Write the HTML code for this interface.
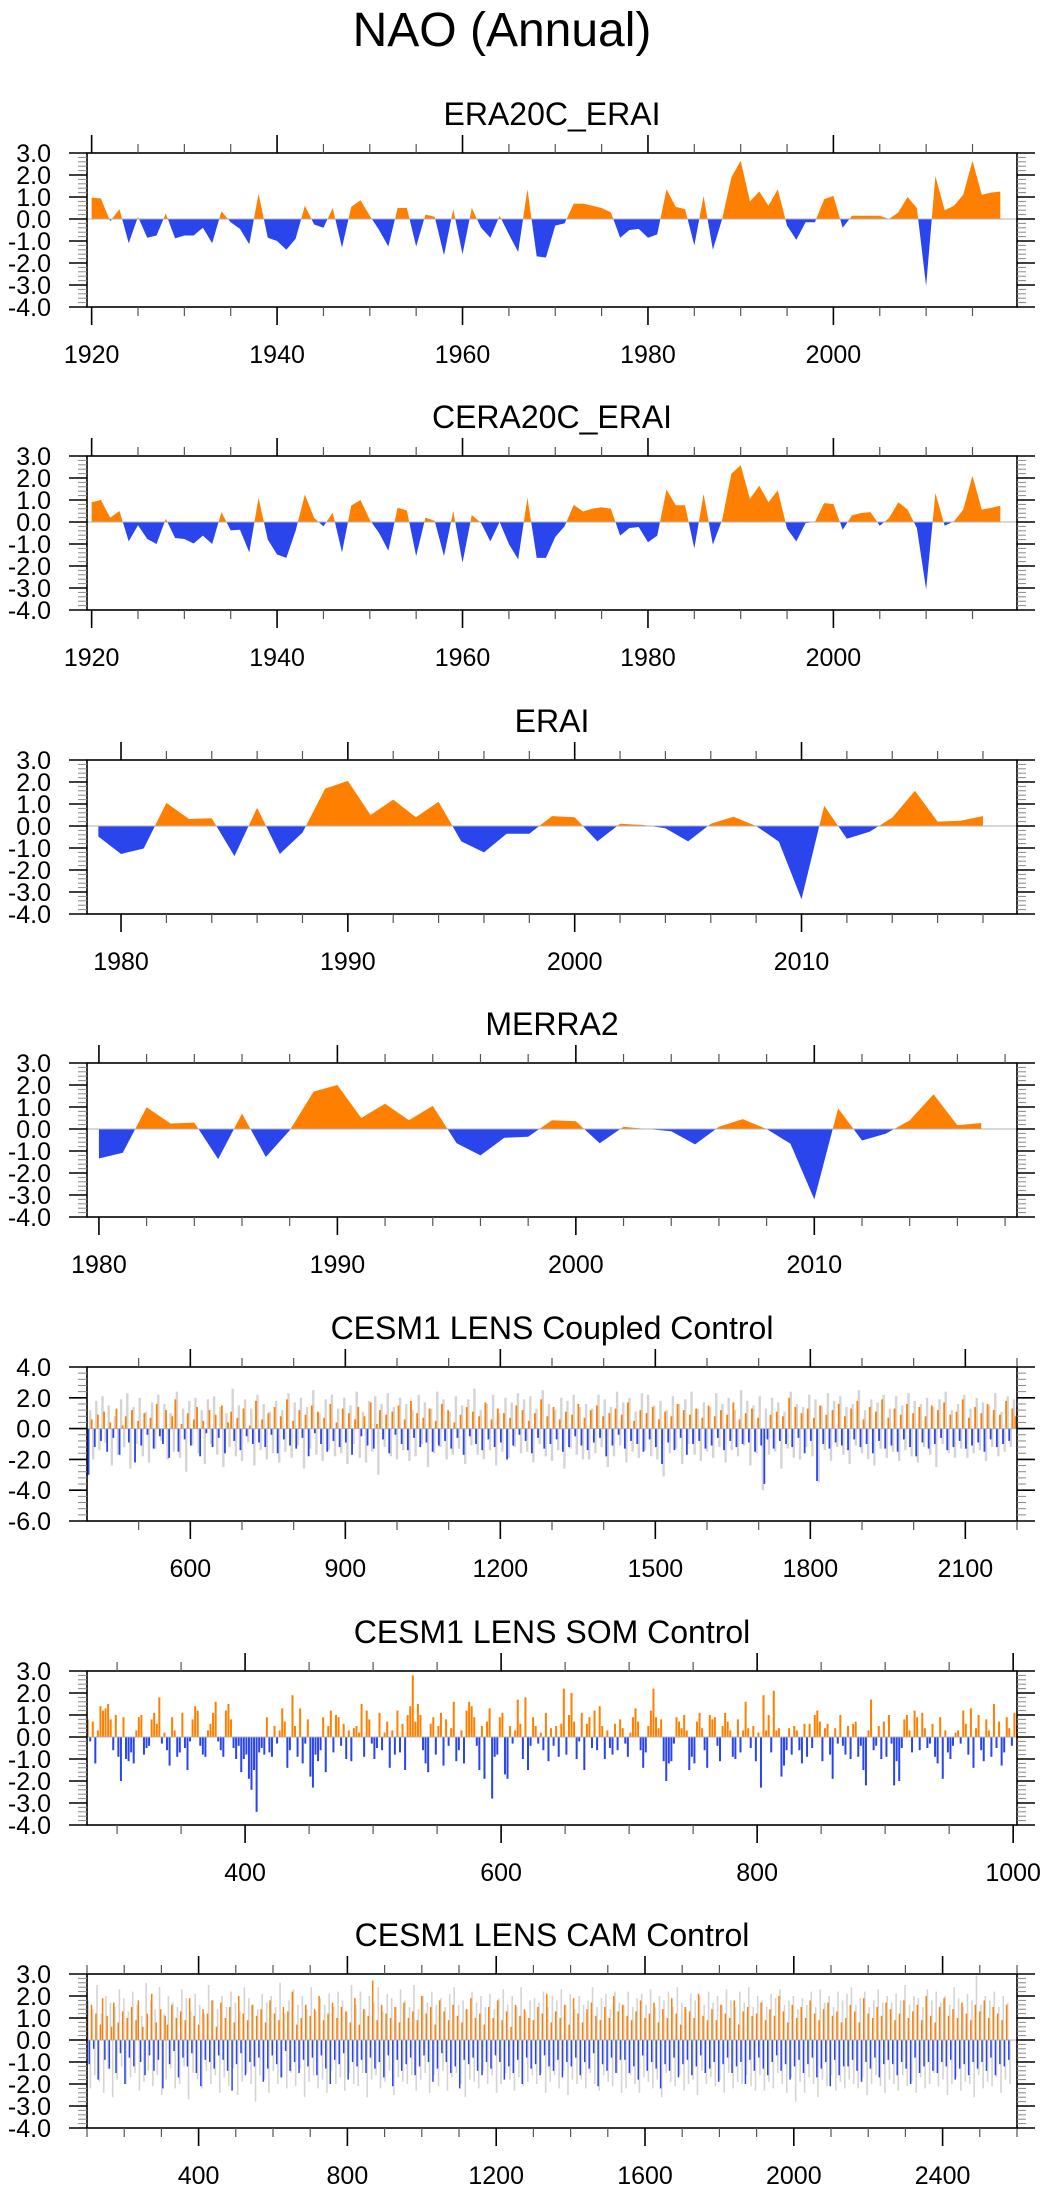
<!DOCTYPE html>
<html><head><meta charset="utf-8"><title>NAO (Annual)</title>
<style>html,body{margin:0;padding:0;background:#fff}svg{display:block}text{font-family:"Liberation Sans",Arial,sans-serif;fill:#000}</style>
</head><body>
<svg id="chart" width="1049" height="2192" viewBox="0 0 1049 2192" xmlns="http://www.w3.org/2000/svg">
<text x="502" y="46" font-size="48" text-anchor="middle">NAO (Annual)</text>
</svg>
<script>
// ---------- data ----------
const era20cYears0 = 1920;
const era20cValues = [0.97,0.93,-0.1,0.45,-1.1,0.1,-0.85,-0.75,0.25,-0.88,-0.75,-0.75,-0.4,-1.1,0.35,-0.15,-0.45,-1.15,1.15,-0.85,-1.0,-1.4,-0.9,0.6,-0.25,-0.4,0.5,-1.3,0.55,0.85,0.15,-0.5,-1.25,0.5,0.5,-1.25,0.2,0.1,-1.65,0.45,-1.6,0.5,-0.4,-0.85,0.15,-0.7,-1.5,1.35,-1.7,-1.75,-0.3,-0.2,0.7,0.7,0.6,0.5,0.3,-0.85,-0.5,-0.45,-0.85,-0.7,1.35,0.55,0.45,-1.2,1.05,-1.4,0.0,1.9,2.65,0.8,1.25,0.6,1.35,-0.3,-0.95,-0.15,-0.15,0.9,1.05,-0.4,0.15,0.15,0.15,0.15,0.0,0.3,1.0,0.5,-3.05,1.95,0.4,0.6,1.1,2.65,1.1,1.2,1.25];
const cera20cYears0 = 1920;
const cera20cValues = [0.9,1.0,0.2,0.5,-0.88,-0.15,-0.77,-1.0,0.15,-0.73,-0.77,-0.98,-0.62,-1.0,0.45,-0.38,-0.35,-1.38,1.1,-0.8,-1.48,-1.63,-0.4,1.25,0.18,-0.2,0.42,-1.38,0.75,1.0,0.1,-0.5,-1.3,0.65,0.52,-1.55,0.2,0.05,-1.55,0.5,-1.85,0.32,-0.05,-0.88,0.0,-1.0,-1.7,1.1,-1.63,-1.63,-0.68,-0.2,0.78,0.48,0.6,0.67,0.6,-0.62,-0.27,-0.23,-0.92,-0.62,1.47,0.76,0.76,-1.2,1.27,-1.03,0.1,2.2,2.58,1.05,1.65,0.9,1.44,-0.3,-0.88,-0.05,0.0,0.86,0.82,-0.35,0.3,0.41,0.45,-0.17,0.18,0.9,0.56,-0.27,-3.07,1.32,-0.17,0.03,0.56,2.1,0.56,0.64,0.74];
const eraiYears0 = 1979;
const eraiValues = [-0.48,-1.27,-1.02,1.05,0.32,0.35,-1.37,0.83,-1.27,-0.3,1.7,2.05,0.5,1.2,0.4,1.1,-0.7,-1.2,-0.35,-0.35,0.45,0.4,-0.7,0.1,0.05,-0.1,-0.7,0.1,0.42,0.0,-0.71,-3.33,0.92,-0.58,-0.26,0.38,1.6,0.2,0.24,0.45];
const merraYears0 = 1980;
const merraValues = [-1.34,-1.08,0.99,0.25,0.29,-1.37,0.7,-1.27,-0.06,1.7,2.0,0.5,1.15,0.4,1.05,-0.65,-1.2,-0.4,-0.35,0.4,0.35,-0.65,0.1,0.0,-0.1,-0.7,0.1,0.45,0.0,-0.67,-3.2,0.94,-0.52,-0.21,0.39,1.58,0.17,0.27];

const coupledStart = 403, coupledStep = 6;
const coupledValues = [-3.0,0.6,-1.2,0.9,-0.8,1.1,-1.5,0.4,-0.6,1.3,-1.7,0.2,0.8,-0.9,1.2,-2.2,0.5,-1.1,1.0,-0.4,
0.7,-1.3,1.6,-0.5,-1.0,1.2,-1.9,0.8,1.9,-1.5,0.3,-0.7,1.0,-1.1,0.6,1.4,-1.8,0.5,-0.3,1.2,
-1.2,0.9,-0.6,1.5,-1.6,0.4,1.1,-0.8,0.7,-1.4,1.3,-0.5,0.2,-1.0,1.8,-0.9,0.6,-1.2,1.0,-0.4,
1.4,-1.6,0.8,-0.7,1.9,-1.1,0.5,-1.3,1.2,-0.6,0.9,-1.8,1.5,-0.3,1.1,-1.0,0.7,-1.5,1.6,-0.8,
0.4,-1.2,1.3,-0.9,1.0,-1.7,0.6,1.4,-0.5,0.8,-1.1,1.7,-1.3,0.3,1.2,-0.7,0.9,-1.6,1.1,-0.4,
1.5,-1.0,0.6,-1.4,1.8,-0.6,1.0,-1.2,0.7,-0.9,1.3,-1.5,0.5,-1.1,1.6,-0.8,1.2,-1.3,0.4,-0.6,
0.9,-1.7,1.4,-0.5,1.1,-1.0,0.8,-1.4,1.7,-0.7,0.6,-1.2,1.3,-0.9,1.0,-2.0,0.7,-1.1,1.5,-0.4,
1.2,-0.8,0.5,-1.6,1.0,-0.6,1.9,-1.3,0.8,-1.0,1.4,-0.7,0.6,-1.5,1.1,-1.2,0.9,-0.5,1.6,-1.1,
0.7,-1.4,1.2,-0.9,1.5,-0.6,0.8,-1.8,1.0,-1.1,1.3,-0.4,0.9,-1.3,1.7,-0.8,0.5,-1.0,1.2,-1.5,
1.0,-0.7,1.4,-1.2,0.6,-2.3,1.1,-0.9,0.8,-1.4,1.6,-0.6,1.2,-1.7,0.9,-1.0,1.3,-0.8,0.7,-1.3,
1.5,-1.1,0.8,-0.6,1.2,-1.4,0.9,-0.8,1.7,-1.2,0.6,-1.0,1.0,-0.9,1.3,-1.5,0.7,-1.1,-3.6,-0.7,
0.9,-1.3,1.1,-0.8,0.8,-1.0,2.0,-1.2,1.4,-0.6,1.0,-1.6,1.3,-0.8,0.7,-3.4,1.5,-1.0,0.9,-1.3,
1.2,-0.9,1.6,-1.1,0.8,-1.4,1.3,-0.7,1.8,-1.2,0.6,-1.0,1.4,-1.6,1.1,-0.8,1.9,-1.3,0.7,-1.1,
1.3,-1.5,0.9,-0.7,1.6,-1.2,1.0,-1.8,1.4,-0.9,0.8,-1.3,1.5,-1.0,1.2,-0.6,1.7,-1.4,0.9,-1.2,
1.1,-0.8,1.9,-1.3,0.7,-1.1,1.4,-0.9,1.0,-1.5,1.6,-0.7,1.2,-1.2,0.9,-1.0,1.8,-0.8,1.3,0.8];
const coupledGray = [1.2,-2.0,1.8,-1.4,2.1,-0.9,1.5,-2.4,0.8,-1.7,1.9,-1.2,2.3,-2.6,1.4,-1.0,2.0,-1.8,1.1,-2.2,
1.7,-1.3,2.2,-0.8,1.6,-2.0,1.0,-1.5,2.4,-1.9,1.3,-2.8,1.8,-1.1,2.0,-1.6,1.2,-2.3,1.9,-1.0,
2.1,-1.7,1.4,-2.5,1.0,-1.2,2.6,-1.8,1.5,-2.1,1.9,-0.9,1.3,-2.4,2.2,-1.4,1.6,-2.0,1.1,-1.6,
1.8,-2.2,1.2,-1.5,2.3,-1.9,1.7,-1.1,2.0,-2.6,1.4,-1.3,2.5,-1.7,1.0,-2.1,1.9,-1.4,2.2,-1.8,
1.3,-1.6,2.0,-2.3,1.5,-1.0,2.4,-1.9,1.1,-2.2,1.8,-1.5,2.1,-3.0,1.6,-1.2,2.3,-1.8,1.4,-2.0,
2.0,-1.4,1.6,-2.1,1.2,-1.8,2.2,-1.0,1.7,-2.5,1.3,-1.6,2.4,-1.2,1.9,-2.0,1.1,-1.7,2.1,-1.3,
1.5,-2.3,1.9,-1.1,2.6,-1.7,1.2,-2.0,1.6,-1.4,2.2,-2.4,1.0,-1.5,2.0,-1.9,1.7,-1.2,2.3,-1.6,
1.9,-1.5,2.1,-2.2,1.3,-1.0,2.5,-1.8,1.6,-2.1,1.2,-1.4,2.0,-2.6,1.8,-1.3,2.2,-1.7,1.4,-2.0,
1.6,-2.0,1.3,-1.6,2.2,-1.2,1.9,-2.5,1.4,-1.8,2.4,-1.1,1.7,-2.2,2.0,-1.5,1.1,-1.9,2.3,-1.4,
2.2,-1.8,1.5,-2.0,1.8,-3.1,1.2,-1.6,2.1,-1.3,1.6,-2.3,1.9,-1.0,2.4,-1.7,1.3,-2.1,1.7,-1.5,
1.4,-1.9,2.3,-1.2,1.6,-2.2,2.0,-1.4,1.2,-1.8,2.5,-1.1,1.8,-2.4,1.5,-1.6,2.1,-4.0,1.3,-1.7,
2.0,-1.5,1.7,-2.6,1.1,-1.3,2.4,-1.9,1.6,-2.0,1.4,-1.2,2.2,-1.8,1.9,-3.5,1.5,-1.4,2.3,-2.1,
1.8,-1.2,2.1,-1.7,1.4,-2.3,1.6,-1.1,2.5,-1.6,1.2,-2.0,1.9,-2.4,1.7,-1.3,2.2,-1.9,1.3,-1.5,
2.1,-2.1,1.5,-1.4,2.3,-1.8,1.8,-2.2,1.6,-1.2,2.0,-1.7,1.4,-2.5,1.9,-1.0,2.4,-1.6,1.2,-1.9,
1.6,-1.3,2.2,-1.9,1.3,-1.6,2.0,-1.4,1.7,-2.1,1.5,-1.2,2.3,-1.8,1.1,-1.5,2.1,-1.2,1.9,1.4];

const somStart = 277, somStep = 2;
const somValues = [0.8,-0.2,0.7,-1.2,0.3,1.4,1.2,1.3,1.5,0.8,-0.6,1.0,-0.9,-2.0,0.9,-1.0,-1.1,-0.7,-1.2,0.3,0.9,1.0,-0.8,-0.5,-0.4,0.8,1.1,0.6,1.8,-0.3,0.2,-0.6,-1.3,0.9,0.3,-0.9,-0.7,1.1,-0.5,-1.5,-0.2,0.8,1.4,1.2,-0.4,-0.8,-0.9,0.3,0.6,1.1,1.6,-0.2,-0.6,-0.9,1.2,1.5,0.8,-0.5,-1.0,-0.4,-1.6,-1.0,-0.8,-1.9,-2.4,-1.5,-3.4,-0.7,-0.5,-0.8,0.9,-0.7,-0.9,0.5,-0.3,0.3,1.3,0.7,-1.4,-0.6,1.9,0.5,-0.9,1.3,-1.2,-0.3,0.8,-1.8,-2.3,-0.8,-1.1,-0.6,0.9,-1.6,0.5,1.2,-0.7,1.0,0.9,-0.4,0.6,-1.0,0.3,-1.1,0.4,0.5,0.2,1.5,-0.9,1.2,0.8,-0.3,-1.0,-0.5,1.1,-0.6,0.2,0.7,-1.4,0.3,-0.8,1.2,-0.7,0.6,-1.5,1.0,1.4,2.8,0.7,1.5,1.0,-0.6,-1.2,-1.6,0.6,0.9,-0.8,0.5,1.1,-1.3,0.8,-0.4,0.4,1.6,-1.1,-0.6,0.3,-1.2,1.2,1.6,1.4,0.9,-0.4,-1.5,0.5,-1.9,0.7,1.3,-2.8,-0.9,-0.8,
0.9,1.1,-1.7,-1.9,0.5,-0.3,0.3,1.7,0.6,-1.0,1.8,-1.5,-0.4,0.9,0.5,-0.3,0.2,-0.6,1.1,-1.1,0.4,-0.4,0.5,-0.9,0.6,2.2,-0.8,1.0,2.0,0.7,-1.0,-0.2,1.1,-1.5,0.6,0.9,-0.5,1.2,-0.6,1.4,0.5,-1.0,0.3,-0.5,-0.8,0.6,-0.6,0.8,0.4,-0.3,-0.9,0.2,0.9,1.3,0.7,-0.6,-1.4,-0.7,0.5,1.2,2.2,0.9,0.4,0.8,-1.1,-2.0,-1.2,-1.1,-0.3,0.9,0.7,0.4,1.0,0.3,-1.5,-0.9,-1.2,0.7,1.1,0.4,-0.6,-1.4,1.0,0.8,0.9,-0.4,-1.1,0.5,1.1,0.7,0.3,-0.9,-1.0,0.8,-0.7,0.3,1.6,0.4,-0.5,0.5,-1.1,0.2,-2.3,1.9,0.3,1.0,-0.7,2.1,0.3,0.4,-1.8,-1.3,-0.6,0.4,-0.8,0.5,0.3,-0.6,-1.2,0.6,-0.9,0.6,-0.5,1.0,1.2,0.7,-1.1,0.4,0.6,-0.8,-1.9,0.4,-0.3,1.0,-0.4,-0.8,0.5,-1.0,0.6,0.7,-0.9,-0.4,-1.5,-2.2,0.3,1.7,-0.6,-0.4,0.5,-1.0,0.7,-0.9,1.0,-0.3,-2.2,-1.1,-2.0,-0.5,0.8,1.0,0.3,-0.7,1.2,0.9,-0.6,1.1,0.4,-0.5,-0.3,0.6,-0.9,-1.2,0.9,-1.9,0.3,-0.7,-1.0,-0.4,0.2,0.3,-0.3,1.2,
0.6,-0.8,1.3,-1.4,0.4,1.0,-0.6,-1.1,0.8,0.3,-0.9,1.5,-0.5,0.7,-1.3,-0.7,0.9,0.4,-0.4,1.1,0.5,1.3];

const camStart = 100, camStep = 6;
const camValues = [0.9,-1.1,1.6,-0.4,1.2,-1.8,0.7,1.9,-0.9,1.1,-1.3,0.6,1.7,-1.5,0.8,-0.6,1.3,-2.0,1.0,-0.8,
1.5,-1.2,0.9,1.8,-1.0,0.6,-1.6,1.2,-0.7,2.1,-1.4,0.8,-0.9,1.4,-2.2,1.1,0.7,-1.1,1.6,-0.5,
1.0,-1.7,1.3,-0.8,0.9,-1.2,1.9,-0.6,1.1,-1.5,0.7,-2.1,1.4,-0.9,1.2,-1.0,1.8,-1.3,0.6,-0.7,
1.7,-0.9,1.0,-1.4,1.5,-2.3,0.8,-1.1,2.0,-0.6,1.2,-1.6,0.9,-1.0,1.6,-1.2,1.1,-0.8,1.4,-1.9,
0.8,-1.3,1.8,-0.7,1.2,-1.1,0.9,-1.7,1.5,-0.5,1.3,-1.4,2.2,-1.0,0.7,-1.5,1.0,-0.9,1.6,-1.2,
1.1,-0.8,1.4,-1.6,2.0,-0.7,0.9,-1.3,1.2,-2.0,1.7,-0.9,1.0,-1.1,1.5,-0.6,1.3,-1.8,0.8,-1.0,
1.9,-1.2,0.7,-0.9,1.4,-1.5,1.1,-0.8,2.7,-1.3,0.9,-1.0,1.6,-1.7,1.2,-0.7,1.0,-2.1,1.5,-0.9,
0.8,-1.4,1.7,-1.1,1.0,-0.8,1.3,-1.6,0.9,-1.2,2.0,-0.7,1.2,-1.0,1.5,-1.9,0.7,-1.3,1.8,-0.6,
1.3,-1.0,0.9,-1.5,1.6,-1.2,1.1,-2.2,0.8,-0.9,1.4,-1.1,1.9,-0.8,1.0,-1.4,1.2,-1.6,0.7,-1.0,
1.5,-1.3,1.0,-0.7,1.8,-1.0,0.9,-1.8,1.3,-1.2,0.6,-1.5,1.6,-0.9,1.1,-2.0,1.4,-0.8,1.0,-1.3,
0.9,-1.1,1.5,-1.6,1.2,-0.7,2.1,-1.2,0.8,-1.4,1.3,-0.9,1.0,-1.7,1.6,-1.0,0.7,-1.2,1.9,-0.8,
1.2,-1.6,0.8,-1.0,1.4,-1.3,1.7,-0.6,1.1,-2.1,0.9,-1.1,1.5,-1.4,1.0,-0.8,2.0,-1.5,1.3,-0.9,
1.6,-0.9,1.1,-1.5,0.9,-1.2,1.3,-1.8,1.8,-0.7,1.0,-1.4,1.2,-1.0,1.7,-1.3,0.8,-2.2,1.4,-1.1,
1.0,-1.4,1.9,-0.8,1.2,-1.7,0.7,-1.1,1.5,-0.9,1.3,-1.6,1.0,-1.2,2.1,-0.7,1.1,-1.5,0.9,-1.3,
1.4,-1.0,0.9,-1.9,1.6,-1.1,1.2,-0.8,1.0,-1.5,1.8,-1.2,0.7,-1.0,1.3,-2.0,1.5,-0.9,1.1,-1.4,
1.2,-0.8,1.7,-1.3,0.9,-1.6,1.4,-1.0,1.1,-0.7,2.0,-1.4,1.3,-1.1,0.8,-1.8,1.6,-1.2,1.0,-0.9,
1.5,-1.5,1.0,-1.1,1.8,-0.8,1.2,-1.7,0.9,-1.3,1.4,-1.0,1.7,-2.1,1.1,-0.9,1.3,-1.6,0.8,-1.2,
1.0,-1.2,1.6,-0.9,1.3,-1.4,0.8,-1.9,1.9,-1.0,1.2,-1.3,1.0,-0.8,1.5,-1.7,1.1,-1.1,1.7,-0.9,
1.4,-1.1,0.9,-1.6,1.2,-1.0,1.8,-1.3,1.0,-2.0,1.3,-0.8,1.6,-1.5,0.9,-1.2,2.0,-1.0,1.1,-1.4,
0.8,-1.5,1.5,-1.0,1.9,-1.2,1.1,-0.9,1.4,-1.8,1.0,-1.3,1.7,-1.1,1.2,-1.6,0.9,-1.0,1.6,-1.3,
1.3,-1.0,1.8,-1.4,1.0,-0.8,1.5,-1.6,1.2,-1.1,0.9,-1.2,1.6,-0.9];
const camGray = [1.8,-2.2,1.4,-1.6,2.5,-1.9,1.2,-2.4,2.0,-1.3,1.7,-2.6,1.5,-1.8,2.3,-1.2,1.9,-2.0,1.3,-1.7,
2.2,-1.5,1.6,-2.3,1.1,-1.9,2.6,-1.4,1.8,-2.1,1.4,-1.6,2.4,-2.5,1.2,-1.8,2.0,-1.3,1.7,-2.2,
1.5,-2.0,2.3,-1.2,1.9,-2.7,1.3,-1.5,2.1,-1.8,1.6,-2.2,1.2,-1.4,2.5,-2.0,1.8,-1.6,1.4,-2.4,
2.0,-1.7,1.5,-2.1,2.2,-1.3,1.7,-2.5,1.3,-1.9,2.4,-1.5,1.9,-2.0,1.6,-2.8,1.4,-1.6,2.1,-1.8,
1.7,-2.4,2.0,-1.4,1.5,-2.0,2.6,-1.7,1.2,-2.2,1.8,-1.5,2.3,-2.1,1.6,-1.3,2.0,-2.6,1.4,-1.9,
2.4,-1.6,1.3,-2.2,1.9,-1.8,1.6,-2.4,2.1,-1.4,1.5,-2.0,2.2,-1.7,1.8,-2.3,1.3,-1.5,2.5,-2.0,
1.6,-2.1,2.2,-1.5,1.4,-2.6,2.0,-1.8,1.7,-1.6,2.4,-2.2,1.3,-1.9,2.1,-1.4,1.9,-2.5,1.5,-1.7,
2.3,-1.9,1.8,-2.0,1.5,-1.6,2.5,-2.3,1.4,-1.8,2.0,-1.5,1.7,-2.4,2.2,-1.6,1.6,-2.1,1.9,-1.4,
1.5,-2.3,2.1,-1.7,2.4,-1.5,1.6,-2.0,1.8,-2.6,1.4,-1.8,2.2,-1.9,1.7,-2.2,2.0,-1.4,1.5,-2.0,
2.1,-1.6,1.4,-2.4,1.9,-2.0,2.3,-1.5,1.6,-1.8,2.0,-2.3,1.5,-1.7,2.4,-2.1,1.3,-1.9,1.8,-1.6,
1.9,-2.0,1.7,-1.5,2.2,-2.4,1.5,-1.9,2.0,-1.6,1.8,-2.2,2.3,-1.4,1.6,-2.5,2.1,-1.8,1.4,-2.0,
2.0,-1.8,1.6,-2.2,1.8,-1.5,2.4,-2.0,1.5,-2.3,1.9,-1.6,2.1,-1.9,1.4,-2.1,2.2,-1.5,1.7,-2.4,
1.6,-2.2,2.2,-1.6,1.5,-2.0,1.9,-2.4,2.1,-1.7,1.6,-1.9,2.3,-2.2,1.5,-1.8,2.0,-2.6,1.8,-1.5,
2.2,-1.9,1.5,-2.1,2.4,-1.6,1.7,-2.3,1.4,-2.0,2.1,-1.8,1.8,-2.5,2.0,-1.4,1.6,-2.0,2.2,-1.7,
1.7,-2.1,2.0,-1.8,1.6,-2.4,2.3,-1.5,1.8,-2.2,1.5,-1.9,2.2,-2.0,1.7,-1.6,2.4,-2.1,1.5,-2.3,
2.0,-1.6,1.8,-2.3,1.5,-1.9,2.1,-2.2,1.9,-1.5,2.3,-2.0,1.6,-2.4,1.8,-1.7,2.0,-2.8,1.4,-1.9,
1.9,-2.4,1.6,-1.7,2.2,-2.0,1.5,-2.6,2.3,-1.8,1.7,-2.1,2.0,-1.6,1.5,-2.3,2.2,-1.9,1.8,-2.2,
2.1,-1.8,2.4,-2.0,1.6,-2.2,1.9,-1.7,2.2,-2.5,1.5,-2.0,1.8,-1.6,2.3,-2.1,1.7,-2.4,2.0,-1.8,
1.7,-2.0,2.1,-2.3,1.8,-1.6,2.5,-2.1,1.6,-1.9,2.0,-2.4,1.9,-1.7,1.5,-2.2,2.3,-2.0,1.8,-1.5,
2.2,-2.1,1.7,-1.8,2.0,-2.5,1.6,-2.0,2.4,-1.7,1.9,-2.3,1.5,-1.9,2.1,-2.0,1.8,-2.6,2.9,-1.6,
1.6,-2.2,2.0,-1.9,1.8,-2.1,2.2,-1.7,1.5,-2.4,2.0,-1.8,1.7,-2.0];

// ---------- layout ----------
const NS = "http://www.w3.org/2000/svg";
const svg = document.getElementById("chart");
const PL = 87, PR = 1017, PH = 154;
const ORANGE = "#ff8000", BLUE = "#2a45ec";

function mk(tag, attrs, parent) {
  const e = document.createElementNS(NS, tag);
  for (const k in attrs) e.setAttribute(k, attrs[k]);
  (parent || svg).appendChild(e);
  return e;
}
function range(a, b, s) { const r = []; for (let v = a; v <= b + 1e-9; v += s) r.push(Math.round(v * 1000) / 1000); return r; }

function makePanel(cfg) {
  const g = mk("g", {});
  
  
  const top = cfg.top, bot = top + PH;
  const xs = v => PL + (v - cfg.xmin) / (cfg.xmax - cfg.xmin) * (PR - PL);
  const ys = v => top + (cfg.ymax - v) / (cfg.ymax - cfg.ymin) * PH;
  const t = mk("text", { x: (PL + PR) / 2, y: top - 28, "font-size": 32, "text-anchor": "middle" }, g);
  t.textContent = cfg.title;
  
  
  return { g, xs, ys, top, bot };
}

function decorate(p, cfg) {
  const { g, xs, ys, top, bot } = p;
  const z = mk("line", { x1: PL, x2: PR, y1: ys(0), y2: ys(0), stroke: "#b0b0b0", "stroke-width": 1 }, g);
  
  
  const fr = mk("rect", { x: PL, y: top, width: PR - PL, height: PH, fill: "none", stroke: "#000", "stroke-width": 1.6 }, g);
  
  
  const majX = range(cfg.xMajor0, cfg.xmax, cfg.xMajorStep);
  const minX = range(cfg.xMinor0, cfg.xmax, cfg.xMinorStep).filter(v => v >= cfg.xmin - 1e-6 && !majX.some(m => Math.abs(m - v) < 1e-6));
  const ticks = mk("g", {}, g);
  
  
  minX.forEach(v => {
    const x = xs(v);
    mk("line", { x1: x, x2: x, y1: top - 9, y2: top, stroke: "#555", "stroke-width": 1.2 }, ticks);
    mk("line", { x1: x, x2: x, y1: bot, y2: bot + 9, stroke: "#555", "stroke-width": 1.2 }, ticks);
  });
  majX.forEach(v => {
    const x = xs(v);
    mk("line", { x1: x, x2: x, y1: top - 18, y2: top, stroke: "#000", "stroke-width": 1.6 }, ticks);
    mk("line", { x1: x, x2: x, y1: bot, y2: bot + 18, stroke: "#000", "stroke-width": 1.6 }, ticks);
    const l = mk("text", { x: x, y: bot + 56, "font-size": 25, "text-anchor": "middle" }, g);
    l.textContent = String(v);
    
    
  });
  range(cfg.ymin, cfg.ymax, cfg.yMinorStep).forEach(v => {
    const y = ys(v);
    mk("line", { x1: PL - 9, x2: PL, y1: y, y2: y, stroke: "#888", "stroke-width": 1 }, ticks);
    mk("line", { x1: PR, x2: PR + 9, y1: y, y2: y, stroke: "#888", "stroke-width": 1 }, ticks);
  });
  range(cfg.ymin, cfg.ymax, cfg.yMajorStep).forEach(v => {
    const y = ys(v);
    mk("line", { x1: PL - 18, x2: PL, y1: y, y2: y, stroke: "#000", "stroke-width": 1.6 }, ticks);
    mk("line", { x1: PR, x2: PR + 18, y1: y, y2: y, stroke: "#000", "stroke-width": 1.6 }, ticks);
    const l = mk("text", { x: 51, y: y + 9, "font-size": 25, "text-anchor": "end" }, g);
    l.textContent = v.toFixed(1);
    
    
  });
}

let clipId = 0;
function areaPanel(cfg, y0, vals) {
  const p = makePanel(cfg);
  const { g, xs, ys, top, bot } = p;
  let d = "M" + xs(y0) + "," + ys(0);
  vals.forEach((v, i) => { d += " L" + xs(y0 + i).toFixed(2) + "," + ys(v).toFixed(2); });
  d += " L" + xs(y0 + vals.length - 1).toFixed(2) + "," + ys(0) + " Z";
  const ca = "c" + (clipId++), cb = "c" + (clipId++);
  const defs = mk("defs", {}, g);
  const c1 = mk("clipPath", { id: ca }, defs); mk("rect", { x: PL, y: top, width: PR - PL, height: ys(0) - top }, c1);
  const c2 = mk("clipPath", { id: cb }, defs); mk("rect", { x: PL, y: ys(0), width: PR - PL, height: bot - ys(0) }, c2);
  const pos = mk("path", { d: d, fill: ORANGE, "clip-path": "url(#" + ca + ")" }, g);
  
  
  const neg = mk("path", { d: d, fill: BLUE, "clip-path": "url(#" + cb + ")" }, g);
  
  
  decorate(p, cfg);
}

function barPanel(cfg, start, step, vals, gray, bw, gw) {
  const p = makePanel(cfg);
  const { g, xs, ys } = p;
  const gg = mk("g", {}, g);
  
  
  if (gray) gray.forEach((v, i) => {
    const yr = start + step * i + step / 2;
    if (yr > cfg.xmax || yr < cfg.xmin) return;
    const x = xs(yr);
    mk("line", { x1: x, x2: x, y1: ys(0), y2: ys(v), stroke: "#d4d4d4", "stroke-width": gw }, gg);
  });
  const bg = mk("g", {}, g);
  
  
  vals.forEach((v, i) => {
    const yr = start + step * i;
    if (yr > cfg.xmax || yr < cfg.xmin) return;
    const x = xs(yr);
    const y1 = Math.min(ys(0), ys(v)), h = Math.abs(ys(v) - ys(0));
    const r = mk("rect", { x: (x - bw / 2).toFixed(2), y: y1.toFixed(2), width: bw, height: h.toFixed(2), fill: v >= 0 ? ORANGE : BLUE }, bg);
    
    
  });
  decorate(p, cfg);
}

const Y7 = { ymin: -4, ymax: 3, yMajorStep: 1, yMinorStep: 0.2 };
areaPanel(Object.assign({ name: "era20c-erai", title: "ERA20C_ERAI", top: 153, xmin: 1919.5, xmax: 2019.8, xMajor0: 1920, xMajorStep: 20, xMinor0: 1920, xMinorStep: 5 }, Y7), era20cYears0, era20cValues);
areaPanel(Object.assign({ name: "cera20c-erai", title: "CERA20C_ERAI", top: 456, xmin: 1919.5, xmax: 2019.8, xMajor0: 1920, xMajorStep: 20, xMinor0: 1920, xMinorStep: 5 }, Y7), cera20cYears0, cera20cValues);
areaPanel(Object.assign({ name: "erai", title: "ERAI", top: 760, xmin: 1978.5, xmax: 2019.5, xMajor0: 1980, xMajorStep: 10, xMinor0: 1980, xMinorStep: 2 }, Y7), eraiYears0, eraiValues);
areaPanel(Object.assign({ name: "merra2", title: "MERRA2", top: 1063, xmin: 1979.5, xmax: 2018.5, xMajor0: 1980, xMajorStep: 10, xMinor0: 1980, xMinorStep: 2 }, Y7), merraYears0, merraValues);
barPanel({ name: "cesm1-coupled", title: "CESM1 LENS Coupled Control", top: 1367, xmin: 400, xmax: 2200, ymin: -6, ymax: 4, yMajorStep: 2, yMinorStep: 0.4, xMajor0: 600, xMajorStep: 300, xMinor0: 500, xMinorStep: 100 }, coupledStart, coupledStep, coupledValues, coupledGray, 1.8, 2.4);
barPanel(Object.assign({ name: "cesm1-som", title: "CESM1 LENS SOM Control", top: 1671, xmin: 276.5, xmax: 1003, xMajor0: 400, xMajorStep: 200, xMinor0: 300, xMinorStep: 50 }, Y7), somStart, somStep, somValues, null, 2.0, 1);
barPanel(Object.assign({ name: "cesm1-cam", title: "CESM1 LENS CAM Control", top: 1974, xmin: 100, xmax: 2600, xMajor0: 400, xMajorStep: 400, xMinor0: 100, xMinorStep: 100 }, Y7), camStart, camStep, camValues, camGray, 1.5, 1.6);
</script>
</body></html>
